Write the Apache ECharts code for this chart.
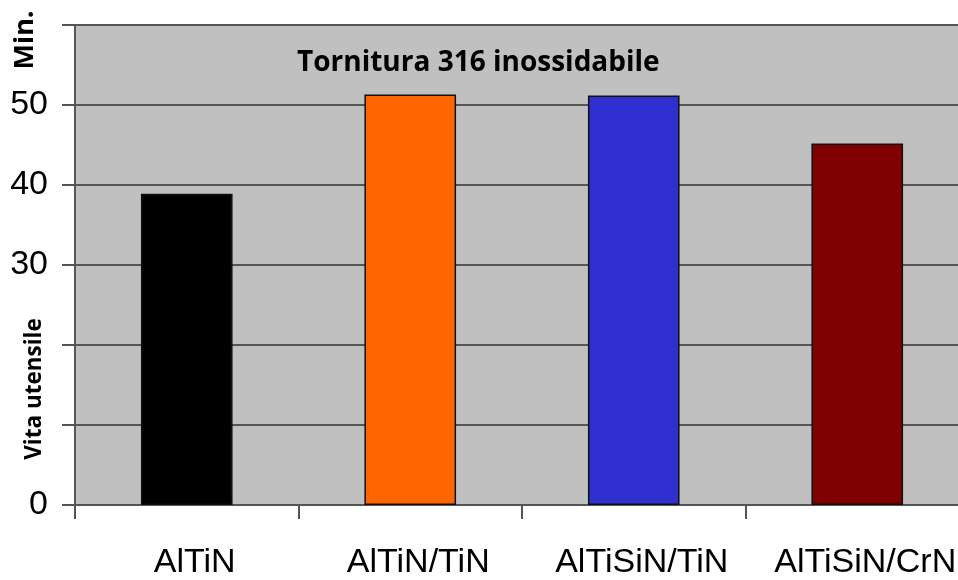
<!DOCTYPE html>
<html>
<head>
<meta charset="utf-8">
<script src="https://cdn.jsdelivr.net/npm/echarts@6/dist/echarts.min.js"></script>
<style>html,body{margin:0;padding:0;background:#fff;overflow:hidden;width:958px;height:580px;}#c{width:969px;height:580px;}</style>
</head>
<body>
<div id="c"></div>
<script>
var categories = ['AlTiN', 'AlTiN/TiN', 'AlTiSiN/TiN', 'AlTiSiN/CrN'];
var values = [38.9, 51.3, 51.2, 45.2];
var barColors = ['#000000', '#ff6600', '#3030d0', '#7f0000'];
var yTickLabels = {0: '0', 30: '30', 40: '40', 50: '50'};
var titleText = 'Tornitura 316 inossidabile';
var yName = 'Vita utensile';
var unitText = 'Min.';

var chart = echarts.init(document.getElementById('c'), null, {renderer: 'canvas'});
chart.setOption({
  animation: false,
  backgroundColor: '#ffffff',
  title: {
    text: titleText,
    left: 292,
    top: 44,
    textStyle: {fontFamily: 'Open Sans', fontWeight: 'bold', fontSize: 28, color: '#000'}
  },
  grid: {
    left: 75, top: 25, bottom: 74, right: 0,
    show: true, backgroundColor: '#c0c0c0', borderWidth: 0
  },
  xAxis: {
    type: 'category',
    data: categories,
    axisLine: {show: true, lineStyle: {color: '#555', width: 2}},
    axisTick: {show: true, alignWithLabel: false, length: 14, lineStyle: {color: '#555', width: 2}},
    axisLabel: {fontFamily: 'Liberation Sans', fontSize: 34, color: '#000', margin: 41, interval: 0, padding: [0, 0, 0, 16]}
  },
  yAxis: {
    type: 'value',
    min: 0, max: 60, interval: 10,
    axisLine: {show: true, lineStyle: {color: '#555', width: 2}},
    axisTick: {show: true, length: 13, lineStyle: {color: '#555', width: 2}},
    splitLine: {show: true, lineStyle: {color: '#555', width: 2}},
    axisLabel: {
      fontFamily: 'Liberation Sans', fontSize: 34, color: '#000', margin: 27,
      formatter: function (v) { return yTickLabels[v] !== undefined ? yTickLabels[v] : ''; }
    }
  },
  graphic: [
    {type: 'text', x: 25, y: 40, rotation: Math.PI / 2,
      style: {text: unitText, font: 'bold 27px "Open Sans"', fill: '#000', align: 'center', verticalAlign: 'middle'}},
    {type: 'text', x: 35, y: 389, rotation: Math.PI / 2,
      style: {text: yName, font: 'bold 22.5px "Open Sans"', fill: '#000', align: 'center', verticalAlign: 'middle'}}
  ],
  series: [{
    type: 'bar',
    barWidth: '41%',
    data: values.map(function (v, i) {
      return {value: v, itemStyle: {color: barColors[i], borderColor: '#111', borderWidth: 1.5}};
    })
  }]
});
</script>
</body>
</html>
